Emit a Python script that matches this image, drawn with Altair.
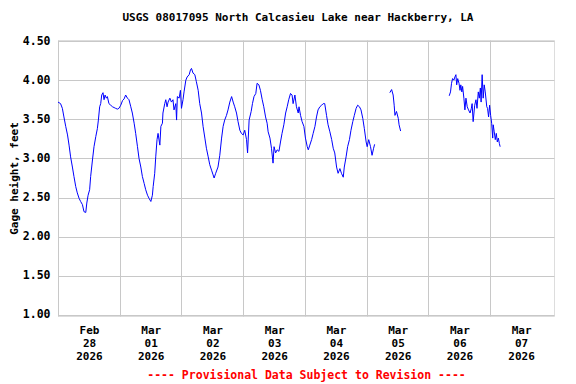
import altair as alt
import pandas as pd

START = "2026-02-28T00:00:00Z"

# Hours since 2026-02-28 00:00 and gage height (feet), three continuous pieces
seg1_hours = [0.0, 1.0, 1.7, 2.3, 3.0, 3.7, 4.3, 4.9, 5.6, 6.2, 6.9, 7.5, 8.2, 8.8, 9.5, 10.1,
              10.8, 11.2, 11.7, 12.3, 12.7, 13.4, 14.0, 14.7, 15.3, 15.7, 16.2, 16.6, 17.0, 17.5,
              17.9, 18.3, 18.8, 19.2, 19.8, 20.5, 21.2, 21.8, 22.4, 23.1, 23.7, 24.4, 25.1, 25.7,
              26.3, 27.0, 27.6, 28.3, 28.9, 29.6, 30.2, 30.9, 31.5, 32.2, 32.8, 33.5, 34.1, 34.8,
              35.4, 36.1, 36.7, 37.0, 37.6, 38.0, 38.5, 38.9, 39.6, 40.0, 40.6, 40.8, 41.5, 41.9,
              42.4, 42.8, 43.5, 44.1, 44.7, 45.1, 45.8, 46.1, 46.4, 47.1, 47.6, 48.0, 48.6, 49.0,
              49.7, 50.2, 51.0, 51.5, 51.9, 52.5, 53.2, 53.8, 54.5, 55.1, 55.8, 56.4, 57.1, 57.7,
              58.4, 59.0, 59.7, 60.3, 60.7, 61.3, 62.2, 62.9, 63.6, 64.2, 64.8, 65.5, 66.1, 66.8,
              67.5, 68.1, 68.7, 69.4, 70.0, 70.7, 71.3, 72.0, 72.6, 73.3, 73.7, 74.3, 75.1, 75.6,
              76.2, 76.9, 77.4, 78.1, 78.7, 79.4, 80.0, 80.7, 81.3, 81.7, 82.4, 83.0, 83.6, 84.0,
              84.6, 85.2, 85.9, 86.5, 87.1, 87.8, 88.5, 89.1, 89.7, 90.4, 91.0, 91.4, 92.1, 92.7,
              93.4, 93.7, 94.3, 94.9, 95.6, 96.2, 96.9, 97.3, 97.9, 98.6, 99.2, 99.9, 100.5, 101.1,
              101.8, 102.5, 103.1, 103.7, 104.4, 105.0, 105.7, 106.4, 107.0, 107.6, 108.3, 108.9,
              109.6, 110.2, 110.9, 111.3, 112.0, 112.6, 113.3, 113.9, 114.6, 115.2, 115.9, 116.5,
              117.2, 117.8, 118.5, 119.1, 119.8, 120.2, 120.8, 121.5, 122.1, 122.7, 123.1]
seg1_feet = [3.72, 3.70, 3.64, 3.53, 3.41, 3.30, 3.17, 3.02, 2.89, 2.77, 2.64, 2.56, 2.49, 2.45, 2.41, 2.32,
             2.31, 2.43, 2.53, 2.60, 2.77, 2.98, 3.15, 3.28, 3.38, 3.49, 3.66, 3.70, 3.81, 3.84,
             3.75, 3.81, 3.77, 3.79, 3.70, 3.68, 3.66, 3.65, 3.64, 3.63, 3.64, 3.68, 3.74, 3.76,
             3.81, 3.77, 3.75, 3.66, 3.58, 3.45, 3.32, 3.15, 3.00, 2.89, 2.77, 2.68, 2.60, 2.53,
             2.49, 2.45, 2.53, 2.64, 2.81, 3.02, 3.24, 3.32, 3.17, 3.41, 3.45, 3.58, 3.70, 3.75,
             3.66, 3.72, 3.77, 3.72, 3.75, 3.62, 3.70, 3.49, 3.79, 3.77, 3.87, 3.64, 3.75, 3.85,
             4.00, 4.04, 4.07, 4.13, 4.15, 4.09, 4.07, 3.98, 3.87, 3.70, 3.58, 3.41, 3.26, 3.13,
             3.02, 2.92, 2.85, 2.79, 2.75, 2.81, 2.89, 3.04, 3.26, 3.41, 3.49, 3.55, 3.62, 3.72,
             3.79, 3.72, 3.66, 3.58, 3.47, 3.36, 3.32, 3.30, 3.36, 3.24, 3.07, 3.49, 3.60, 3.70,
             3.79, 3.83, 3.96, 3.94, 3.87, 3.75, 3.66, 3.53, 3.45, 3.34, 3.26, 3.13, 2.94, 3.15,
             3.07, 3.11, 3.09, 3.21, 3.32, 3.43, 3.58, 3.66, 3.75, 3.83, 3.81, 3.70, 3.81, 3.66,
             3.58, 3.66, 3.55, 3.47, 3.41, 3.26, 3.15, 3.11, 3.17, 3.24, 3.32, 3.41, 3.53, 3.62,
             3.66, 3.68, 3.70, 3.70, 3.55, 3.43, 3.34, 3.24, 3.13, 3.07, 2.89, 2.81,
             2.87, 2.81, 2.76, 2.89, 3.02, 3.15, 3.24, 3.36, 3.47, 3.55, 3.64, 3.68,
             3.66, 3.62, 3.51, 3.38, 3.21, 3.15, 3.24, 3.15, 3.04, 3.13, 3.18]

seg2_hours = [129.0, 129.7, 130.3, 130.7, 131.0, 131.6, 132.3, 132.6, 133.2]
seg2_feet = [3.84, 3.88, 3.81, 3.68, 3.55, 3.60, 3.51, 3.43, 3.35]

seg3_hours = [152.1, 152.6, 153.0, 153.4, 153.9, 154.3, 154.7, 155.0, 155.4, 155.9, 156.3, 156.6,
              157.0, 157.3, 157.8, 158.2, 158.6, 159.1, 159.6, 160.2, 160.7, 161.0, 161.4, 162.0,
              162.5, 162.9, 163.4, 163.8, 164.2, 164.5, 164.9, 165.3, 165.7, 166.1, 166.7, 167.0,
              167.4, 167.8, 168.2, 168.6, 169.0, 169.2, 169.6, 170.0, 170.4, 170.8, 171.2, 171.6,
              171.9]
seg3_feet = [3.80, 3.85, 3.96, 4.02, 4.00, 4.04, 4.07, 3.94, 4.02, 3.96, 3.87, 3.94,
             3.85, 3.92, 3.77, 3.62, 3.77, 3.66, 3.62, 3.58, 3.64, 3.70, 3.47, 3.68,
             3.75, 3.64, 3.85, 3.77, 3.90, 3.72, 4.07, 3.77, 3.94, 3.85, 3.66, 3.64,
             3.53, 3.68, 3.55, 3.45, 3.26, 3.43, 3.34, 3.24, 3.32, 3.21, 3.26, 3.19,
             3.15]

y_ticks = [1.0, 1.5, 2.0, 2.5, 3.0, 3.5, 4.0, 4.5]
day_ticks = [(2, 28), (3, 1), (3, 2), (3, 3), (3, 4), (3, 5), (3, 6), (3, 7)]

frames = []
for name, hs, fs in [("s1", seg1_hours, seg1_feet), ("s2", seg2_hours, seg2_feet), ("s3", seg3_hours, seg3_feet)]:
    frames.append(pd.DataFrame({"hours": hs, "feet": fs, "segment": name}))
df = pd.concat(frames, ignore_index=True)
df["time"] = (pd.Timestamp(START) + pd.to_timedelta(df["hours"], unit="h")).dt.strftime("%Y-%m-%dT%H:%M:%SZ")
df = df[["time", "feet", "segment"]]

FONT = "DejaVu Sans Mono"

x_values = [alt.DateTime(year=2026, month=m, date=d, utc=True) for m, d in day_ticks]

chart = alt.Chart(df).mark_line(color="#0000FF", strokeWidth=1).encode(
    x=alt.X(
        "time:T",
        scale=alt.Scale(
            type="utc",
            domain=[alt.DateTime(year=2026, month=2, date=28, utc=True),
                    alt.DateTime(year=2026, month=3, date=8, hours=0, minutes=50, utc=True)],
            nice=False,
        ),
        axis=alt.Axis(
            values=x_values,
            labelExpr="[utcFormat(datum.value, '%b'), utcFormat(datum.value, '%d'), utcFormat(datum.value, '%Y')]",
            labelOffset=31,
            labelFlush=False,
            labelOverlap=False,
            labelPadding=8,
            labelLineHeight=13,
            labelFont=FONT,
            labelFontSize=11,
            labelFontWeight="bold",
            labelColor="black",
            ticks=False,
            domain=False,
            grid=True,
            gridColor="#C8C8C8",
            gridWidth=1,
            title="---- Provisional Data Subject to Revision ----",
            titleColor="#FF0000",
            titleFont=FONT,
            titleFontSize=11.5,
            titleFontWeight="bold",
            titlePadding=8,
        ),
    ),
    y=alt.Y(
        "feet:Q",
        scale=alt.Scale(domain=[0.987, 4.513], nice=False, zero=False),
        axis=alt.Axis(
            values=y_ticks,
            format=".2f",
            labelFont=FONT,
            labelFontSize=11.5,
            labelFontWeight="bold",
            labelColor="black",
            labelPadding=8,
            ticks=False,
            domain=False,
            grid=True,
            gridColor="#C8C8C8",
            gridWidth=1,
            title="Gage height, feet",
            titleFont=FONT,
            titleFontSize=11,
            titleFontWeight="bold",
            titleColor="black",
            titlePadding=3,
        ),
    ),
    detail="segment:N",
).properties(
    width=496,
    height=276,
    title=alt.TitleParams(
        "USGS 08017095 North Calcasieu Lake near Hackberry, LA",
        font=FONT,
        fontSize=11,
        fontWeight="bold",
        color="black",
        anchor="middle",
        dx=-8,
        offset=12,
    ),
    autosize=alt.AutoSizeParams(type="none"),
    padding={"left": 50, "top": 32, "right": 14, "bottom": 68},
).configure_view(
    stroke="black",
    strokeWidth=1.5,
).configure(background="white")

chart.save("out.html", embed_options={"renderer": "svg", "actions": False})
